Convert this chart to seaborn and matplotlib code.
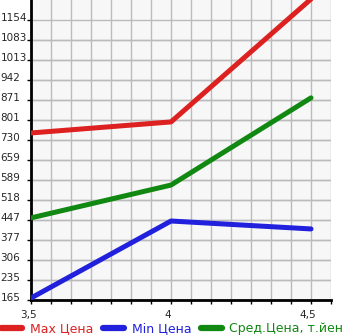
import matplotlib
matplotlib.use("Agg")
import matplotlib.pyplot as plt
import matplotlib.transforms as mtransforms
import seaborn as sns
import pandas as pd
import numpy as np

x_vals = [3.5, 4.0, 4.5]
max_price = [755, 794, 1228]
min_price = [172, 444, 416]
avg_price = [455, 571, 879]
series_names = ["Max Цена", "Min Цена", "Сред.Цена, т.йен"]
colors = ["#dd2020", "#2020dd", "#118811"]
y_ticks = [165, 235, 306, 377, 447, 518, 589, 659, 730, 801, 871, 942, 1013, 1083, 1154]
x_major = [3.5, 4.0, 4.5]
x_labels = ["3,5", "4", "4,5"]

df = pd.concat([
    pd.DataFrame({"x": x_vals, "y": vals, "s": name})
    for vals, name in zip([max_price, min_price, avg_price], series_names)
])

sns.set_style("white")
plt.rcParams['font.family'] = ['DejaVu Sans']

W, H = 345, 335
fig = plt.figure(figsize=(W / 100, H / 100), dpi=100)
ax = fig.add_axes([31 / W, 35 / H, 300 / W, 300 / H])
ax.set_facecolor("#f7f7f7")

sns.lineplot(data=df, x="x", y="y", hue="s", palette=colors, linewidth=3.6,
             ax=ax, legend=False, solid_capstyle="round", zorder=3)

step_y = (1154 - 165) / 14
ax.set_ylim(165, 1154 + step_y)
step_x = 0.5 / 7
ax.set_xlim(3.5, 3.5 + 15 * step_x)

ax.set_yticks(y_ticks)
ax.set_yticklabels([str(v) for v in y_ticks])
ax.set_xticks(x_major)
ax.set_xticklabels(x_labels)
ax.set_xticks([3.5 + i * step_x for i in range(16)], minor=True)
ax.set_yticks([165 + i * step_y for i in range(15)], minor=True)

ax.grid(True, which="both", color="#bbbbbb", linewidth=1.0, zorder=0)
ax.set_axisbelow(True)
ax.set_xlabel("")
ax.set_ylabel("")

for side in ["top", "right"]:
    ax.spines[side].set_visible(False)
ax.spines["left"].set_color("black")
ax.spines["left"].set_linewidth(2)
ax.spines["bottom"].set_color("black")
ax.spines["bottom"].set_linewidth(2)

ax.tick_params(axis="y", which="major", left=True, length=3, width=1, color="black",
               labelsize=7.5, pad=19)
ax.tick_params(axis="y", which="minor", left=False)
ax.tick_params(axis="x", which="both", bottom=True, length=3, width=1, color="black",
               labelsize=7.5, pad=4)

off_y = mtransforms.ScaledTranslation(0, 3 / 100, fig.dpi_scale_trans)
for lab in ax.get_yticklabels():
    lab.set_horizontalalignment("left")
    lab.set_transform(lab.get_transform() + off_y)
off_x = mtransforms.ScaledTranslation(-3 / 100, 0, fig.dpi_scale_trans)
for lab in ax.get_xticklabels():
    lab.set_transform(lab.get_transform() + off_x)

from matplotlib.lines import Line2D
handles = [Line2D([0], [0], color=c, linewidth=4.5, solid_capstyle="round") for c in colors]
leg = fig.legend(handles, series_names, loc="lower left", bbox_to_anchor=(0.0, -0.005),
                 ncol=3, frameon=False, fontsize=9, handlelength=1.7,
                 handletextpad=0.6, columnspacing=0.75, borderpad=0.1,
                 borderaxespad=0.0, labelcolor="linecolor")

fig.savefig("out.png", dpi=100)
